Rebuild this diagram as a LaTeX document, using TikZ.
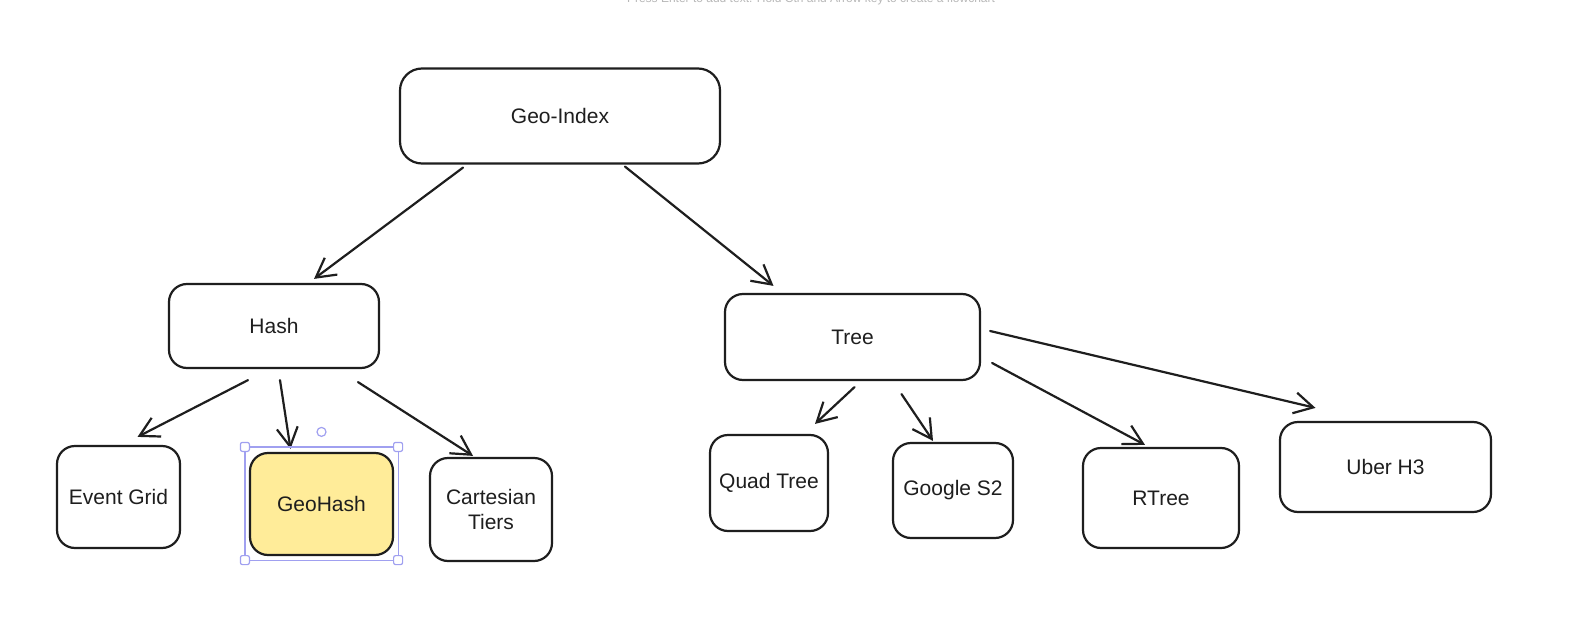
\documentclass[tikz,border=0pt]{standalone}
\usepackage{fontspec}
\setmainfont{Liberation Sans}
\usetikzlibrary{arrows.meta,calc}
\definecolor{ink}{HTML}{1E1E1E}
\definecolor{ghfill}{HTML}{FFEC99}
\definecolor{selcol}{HTML}{A0A0F0}
\definecolor{hintcol}{HTML}{B8B8B8}
\tikzset{
  box/.style={draw=ink, line width=2.2pt, rounded corners=18pt, inner sep=0pt,
    align=center, font=\fontsize{21}{25}\selectfont, text=ink},
  arr/.style={draw=ink, line width=2.2pt, line cap=round,
    -{Straight Barb[length=19pt,width=21pt,line width=2.2pt]}},
  handle/.style={draw=selcol, fill=white, line width=1.2pt, rounded corners=2pt,
    minimum size=9pt, inner sep=0pt},
}
\begin{document}
\begin{tikzpicture}[x=1pt,y=-1pt]
\fill[white] (0,0) rectangle (1571,623);
\useasboundingbox (0,0) rectangle (1571,623);

\node[anchor=base, text=hintcol, font=\fontsize{12}{14}\selectfont] (hint) at (811,3)
  {Press Enter to add text. Hold Ctrl and Arrow key to create a flowchart};

\node[box, minimum width=320pt, minimum height=95pt, rounded corners=22pt] (geo) at (560,116) {Geo-Index};
\node[box, minimum width=210pt, minimum height=84pt] (hash) at (274,326) {Hash};
\node[box, minimum width=255pt, minimum height=86pt] (tree) at (852.5,337) {Tree};

\node[box, minimum width=123pt, minimum height=102pt] (event) at (118.5,497) {Event Grid};
\node[box, fill=ghfill, minimum width=143pt, minimum height=102pt] (gh) at (321.5,504) {GeoHash};
\node[box, minimum width=122pt, minimum height=103pt] (cart) at (491,509.5) {Cartesian\\Tiers};

\node[box, minimum width=118pt, minimum height=96pt] (quad) at (769,483) {Quad Tree};
\node[box, minimum width=120pt, minimum height=95pt] (google) at (953,490.5) {Google S2};
\node[box, minimum width=156pt, minimum height=100pt] (rtree) at (1161,498) {RTree};
\node[box, minimum width=211pt, minimum height=90pt] (uber) at (1385.5,467) {Uber H3};

% connectors
\draw[arr] ($(geo.south)+(-97,3)$) -- ($(hash.north)+(40,-4)$);
\draw[arr] ($(geo.south)+(65,2)$) -- ($(tree.north)+(-79,-7)$);

\draw[arr] ($(hash.south)+(-26,11)$) -- ($(event.north)+(19,-8)$);
\draw[arr] ($(hash.south)+(6,11)$) -- ($(gh.north)+(-31,-3)$);
\draw[arr] ($(hash.south)+(84,13)$) -- ($(cart.north)+(-18,-1)$);

\draw[arr] ($(tree.south)+(2,6)$) -- ($(quad.north)+(46,-10)$);
\draw[arr] ($(tree.south)+(49,13)$) -- ($(google.north)+(-20,-1)$);
\draw[arr] ($(tree.east)+(11,26)$) -- ($(rtree.north)+(-16,-2)$);
\draw[arr] ($(tree.east)+(9,-6)$) -- ($(uber.north)+(-70,-13)$);

% selection frame around GeoHash
\coordinate (s1) at ($(gh.north west)+(-4,-5)$);
\coordinate (s2) at ($(gh.north east)+(4,-5)$);
\coordinate (s3) at ($(gh.south east)+(4,4)$);
\coordinate (s4) at ($(gh.south west)+(-4,4)$);
\draw[selcol, line width=1.2pt] (s1) -- (s2) -- (s3) -- (s4) -- cycle;
\foreach \c in {s1,s2,s3,s4} { \node[handle] at (\c) {}; }
\coordinate (rot) at ($(gh.north)+(0,-20)$);
\draw[selcol, fill=white, line width=1.2pt] (rot) circle (4.5pt);
\end{tikzpicture}
\end{document}
